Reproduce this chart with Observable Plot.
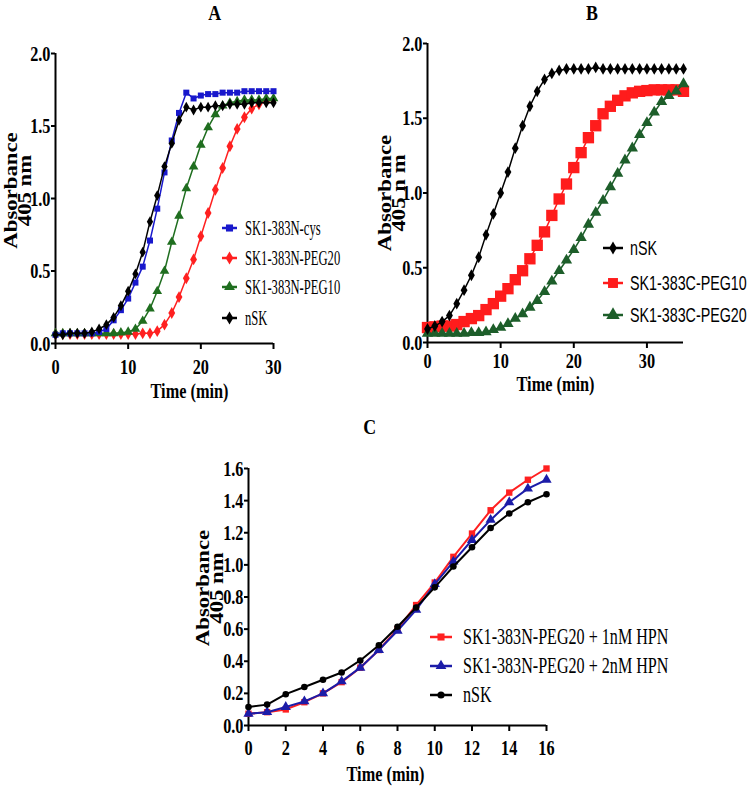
<!DOCTYPE html>
<html><head><meta charset="utf-8">
<script src="https://cdn.jsdelivr.net/npm/d3@7"></script>
<script src="https://cdn.jsdelivr.net/npm/@observablehq/plot@0.6"></script>
<style>
body{margin:0;background:#fff;}
#page{position:relative;width:747px;height:787px;overflow:hidden;background:#fff;}
.panel{position:absolute;}
.title{position:absolute;font-family:"Liberation Serif";font-weight:bold;font-size:21px;line-height:22px;width:40px;text-align:center;color:#000;}
.title span{display:inline-block;transform:scaleX(0.85);}
.leg{position:absolute;display:flex;align-items:center;white-space:nowrap;color:#000;}
.leg svg{flex:none;overflow:visible;}
.leg span{display:inline-block;transform-origin:left center;}
</style></head><body>
<div id="page">
  <div class="title" style="left:195px;top:2px;"><span>A</span></div>
  <div class="title" style="left:572px;top:2px;"><span>B</span></div>
  <div class="title" style="left:350px;top:416px;"><span>C</span></div>
  <div id="pA" class="panel" style="left:0;top:0;"></div>
  <div id="pB" class="panel" style="left:370px;top:0;"></div>
  <div id="pC" class="panel" style="left:190px;top:440px;"></div>
</div>
<script>
// ---------- Panel A data ----------
const timeA = [0,1,2,3,4,5,6,7,8,9,10,11,12,13,14,15,16,17,18,19,20,21,22,23,24,25,26,27,28,29,30];
const cysA   = [0.06,0.07,0.07,0.07,0.07,0.07,0.08,0.10,0.16,0.23,0.31,0.42,0.53,0.71,0.93,1.18,1.40,1.59,1.73,1.69,1.71,1.72,1.72,1.73,1.73,1.73,1.74,1.74,1.74,1.74,1.74];
const peg20A = [0.065,0.065,0.065,0.065,0.065,0.065,0.065,0.065,0.065,0.065,0.065,0.065,0.07,0.07,0.085,0.13,0.21,0.32,0.45,0.58,0.74,0.90,1.06,1.21,1.36,1.48,1.56,1.62,1.65,1.67,1.68];
const peg10A = [0.07,0.07,0.07,0.07,0.07,0.07,0.07,0.07,0.07,0.075,0.08,0.10,0.155,0.24,0.36,0.50,0.70,0.88,1.07,1.22,1.37,1.49,1.58,1.64,1.66,1.67,1.68,1.68,1.68,1.69,1.69];
const nskA   = [0.06,0.06,0.07,0.07,0.07,0.08,0.10,0.13,0.18,0.26,0.36,0.48,0.63,0.84,1.02,1.22,1.38,1.54,1.63,1.61,1.63,1.63,1.64,1.64,1.65,1.65,1.65,1.66,1.66,1.66,1.66];
const xTicksA = [0,10,20,30];
const yTicksAB = [0,0.5,1.0,1.5,2.0];

// ---------- Panel B data ----------
const timeB = [0,1,2,3,4,5,6,7,8,9,10,11,12,13,14,15,16,17,18,19,20,21,22,23,24,25,26,27,28,29,30,31,32,33,34,35];
const nskB   = [0.09,0.11,0.14,0.18,0.26,0.35,0.45,0.57,0.72,0.86,1.00,1.14,1.30,1.45,1.58,1.68,1.76,1.80,1.82,1.83,1.83,1.83,1.83,1.84,1.83,1.83,1.83,1.83,1.83,1.83,1.83,1.83,1.83,1.83,1.83,1.83];
const peg10B = [0.10,0.105,0.11,0.11,0.12,0.14,0.16,0.18,0.22,0.26,0.31,0.36,0.42,0.48,0.56,0.65,0.74,0.85,0.96,1.06,1.17,1.27,1.37,1.45,1.53,1.58,1.62,1.65,1.67,1.68,1.685,1.69,1.69,1.69,1.69,1.68];
const peg20B = [0.06,0.06,0.06,0.06,0.06,0.06,0.065,0.065,0.07,0.085,0.10,0.125,0.16,0.19,0.235,0.28,0.34,0.41,0.48,0.55,0.62,0.70,0.79,0.87,0.95,1.04,1.13,1.22,1.30,1.39,1.47,1.54,1.61,1.65,1.68,1.73];
const xTicksB = [0,10,20,30];

// ---------- Panel C data ----------
const timeC = [0,1,2,3,4,5,6,7,8,9,10,11,12,13,14,15,16];
const hpn1C = [0.073,0.083,0.10,0.145,0.20,0.27,0.36,0.47,0.60,0.75,0.89,1.05,1.195,1.34,1.45,1.53,1.60];
const hpn2C = [0.073,0.083,0.115,0.15,0.20,0.275,0.36,0.47,0.59,0.72,0.88,1.02,1.155,1.28,1.39,1.475,1.53];
const nskC  = [0.115,0.13,0.195,0.24,0.285,0.33,0.405,0.50,0.615,0.735,0.86,0.99,1.11,1.23,1.32,1.39,1.44];
const xTicksC = [0,2,4,6,8,10,12,14,16];
const yTicksC = [0,0.2,0.4,0.6,0.8,1.0,1.2,1.4,1.6];

// ---------- labels ----------
const namesA = ["SK1-383N-cys","SK1-383N-PEG20","SK1-383N-PEG10","nSK"];
const namesB = ["nSK","SK1-383C-PEG10","SK1-383C-PEG20"];
const namesC = ["SK1-383N-PEG20 + 1nM HPN","SK1-383N-PEG20 + 2nM HPN","nSK"];
const xLabel = "Time (min)";
const yLabelA = ["Absorbance", "405 nm"];
const yLabelB = ["Absorbance", "405 n m"];

const rows = (time, vals) => time.map((t, i) => ({t, v: vals[i]}));

function squeeze(svg, sx, sRot) {
  svg.querySelectorAll("text").forEach(t => {
    const tr = t.getAttribute("transform") || "";
    const s = /rotate/.test(tr) ? sRot : sx;
    const xa = t.getAttribute("x");
    const x = xa && !isNaN(+xa) ? +xa : 0;
    t.setAttribute("transform", `${tr} translate(${x},0) scale(${s},1) translate(${-x},0)`);
  });
}

function panel(o) {
  const marks = [
    Plot.ruleY([0], {stroke: "black", strokeWidth: 2}),
    Plot.ruleX([0], {stroke: "black", strokeWidth: 2}),
    Plot.axisX({ticks: o.xTicks, tickSize: 6, tickPadding: o.xPad, tickFormat: d => String(d), strokeWidth: 2, label: null}),
    Plot.axisY({ticks: o.yTicks, tickSize: 4, tickPadding: 1, tickFormat: d3.format(".1f"), strokeWidth: 2, label: null})
  ];
  for (const s of o.series) {
    marks.push(Plot.line(s.data, {x: "t", y: "v", stroke: s.color, strokeWidth: s.sw || 1.5}));
    marks.push(Plot.dot(s.data, {x: "t", y: "v", fill: s.color, stroke: "none", symbol: s.symbol, r: s.r}));
  }
  o.yLabel.forEach((line, i) => {
    marks.push(Plot.text([line], {frameAnchor: "left", textAnchor: "middle", lineAnchor: "middle", rotate: -90, dx: o.yDx[i], dy: o.yDy, fontSize: 19, fontWeight: "bold"}));
  });
  marks.push(Plot.text([xLabel], {frameAnchor: "bottom", textAnchor: "middle", lineAnchor: "middle", dx: o.xDx, dy: o.xDy, fontSize: 22, fontWeight: "bold"}));
  const svg = Plot.plot({
    width: o.width, height: o.height,
    marginLeft: o.m[0], marginTop: o.m[1], marginRight: o.m[2], marginBottom: o.m[3],
    x: {domain: o.xDomain, label: null},
    y: {domain: o.yDomain, label: null},
    style: {fontFamily: "Liberation Serif", fontSize: "22px", fontWeight: "bold", color: "black", background: "transparent", overflow: "visible"},
    marks
  });
  squeeze(svg, 0.74, 1.2);
  document.getElementById(o.el).appendChild(svg);
}

function legend(items, o) {
  const page = document.getElementById("page");
  items.forEach((it, i) => {
    const div = document.createElement("div");
    div.className = "leg";
    div.style.left = o.left + "px";
    div.style.top = (o.ys[i] - 12) + "px";
    div.style.height = "24px";
    const w = o.lineW;
    const sym = d3.symbol(it.symbol, Math.PI * it.r * it.r)();
    div.innerHTML = `<svg width="${w}" height="24"><line x1="0" x2="${w}" y1="12" y2="12" stroke="${it.color}" stroke-width="2.5"/>` +
      `<path d="${sym}" transform="translate(${w/2},12)" fill="${it.color}"/></svg>` +
      `<span style="margin-left:${o.gap}px;font-family:${o.font};font-size:${o.size}px;transform:scaleX(${o.sx});">${it.name}</span>`;
    page.appendChild(div);
  });
}

// colours
const blueA = "#1818cc", redA = "#ff2020", greenA = "#1f6e1f";
const redB = "#ff1c1c", greenB = "#1d5e2a";
const redC = "#ff2020", blueC = "#1c1ca8";

panel({
  el: "pA", width: 300, height: 400, m: [55, 53, 27, 57],
  xDomain: [0, 30], yDomain: [0, 2], xTicks: xTicksA, yTicks: yTicksAB, xPad: 9,
  series: [
    {data: rows(timeA, peg20A), color: redA, symbol: "diamond", r: 3.6},
    {data: rows(timeA, peg10A), color: greenA, symbol: "triangle", r: 3.6},
    {data: rows(timeA, cysA), color: blueA, symbol: "square", r: 3.4},
    {data: rows(timeA, nskA), color: "black", symbol: "diamond", r: 3.3}
  ],
  yLabel: yLabelA, yDx: [-45, -31], yDy: -8, xDx: 25, xDy: 47
});

panel({
  el: "pB", width: 377, height: 400, m: [57, 43, 64, 58],
  xDomain: [0, 35], yDomain: [0, 2], xTicks: xTicksB, yTicks: yTicksAB, xPad: 4,
  series: [
    {data: rows(timeB, peg10B), color: redB, symbol: "square", r: 6.4},
    {data: rows(timeB, peg20B), color: greenB, symbol: "triangle", r: 4.2},
    {data: rows(timeB, nskB), color: "black", symbol: "diamond", r: 3.6}
  ],
  yLabel: yLabelB, yDx: [-43, -29], yDy: 0, xDx: 0, xDy: 41
});

panel({
  el: "pC", width: 440, height: 347, m: [58, 28, 84, 62],
  xDomain: [0, 16], yDomain: [0, 1.6], xTicks: xTicksC, yTicks: yTicksC, xPad: 8,
  series: [
    {data: rows(timeC, hpn1C), color: redC, symbol: "square", r: 3.6, sw: 2},
    {data: rows(timeC, hpn2C), color: blueC, symbol: "triangle", r: 3.8, sw: 2},
    {data: rows(timeC, nskC), color: "black", symbol: "circle", r: 3.3, sw: 2}
  ],
  yLabel: yLabelA, yDx: [-46, -32], yDy: -9, xDx: -12, xDy: 48
});

legend([
  {name: namesA[0], color: blueA, symbol: d3.symbolSquare, r: 4},
  {name: namesA[1], color: redA, symbol: d3.symbolDiamond, r: 4},
  {name: namesA[2], color: greenA, symbol: d3.symbolTriangle, r: 4},
  {name: namesA[3], color: "black", symbol: d3.symbolDiamond, r: 4}
], {left: 222, ys: [228, 258, 287, 318], lineW: 15, gap: 8, font: "'Liberation Serif'", size: 21, sx: 0.6});

legend([
  {name: namesB[0], color: "black", symbol: d3.symbolDiamond, r: 4},
  {name: namesB[1], color: redB, symbol: d3.symbolSquare, r: 5.6},
  {name: namesB[2], color: greenB, symbol: d3.symbolTriangle, r: 5}
], {left: 603, ys: [248, 283, 315], lineW: 20, gap: 7, font: "'Liberation Sans'", size: 21, sx: 0.68});

legend([
  {name: namesC[0], color: redC, symbol: d3.symbolSquare, r: 4},
  {name: namesC[1], color: blueC, symbol: d3.symbolTriangle, r: 4},
  {name: namesC[2], color: "black", symbol: d3.symbolCircle, r: 3.6}
], {left: 430, ys: [637, 666, 695], lineW: 22, gap: 11, font: "'Liberation Serif'", size: 23, sx: 0.7});
</script>
</body></html>
